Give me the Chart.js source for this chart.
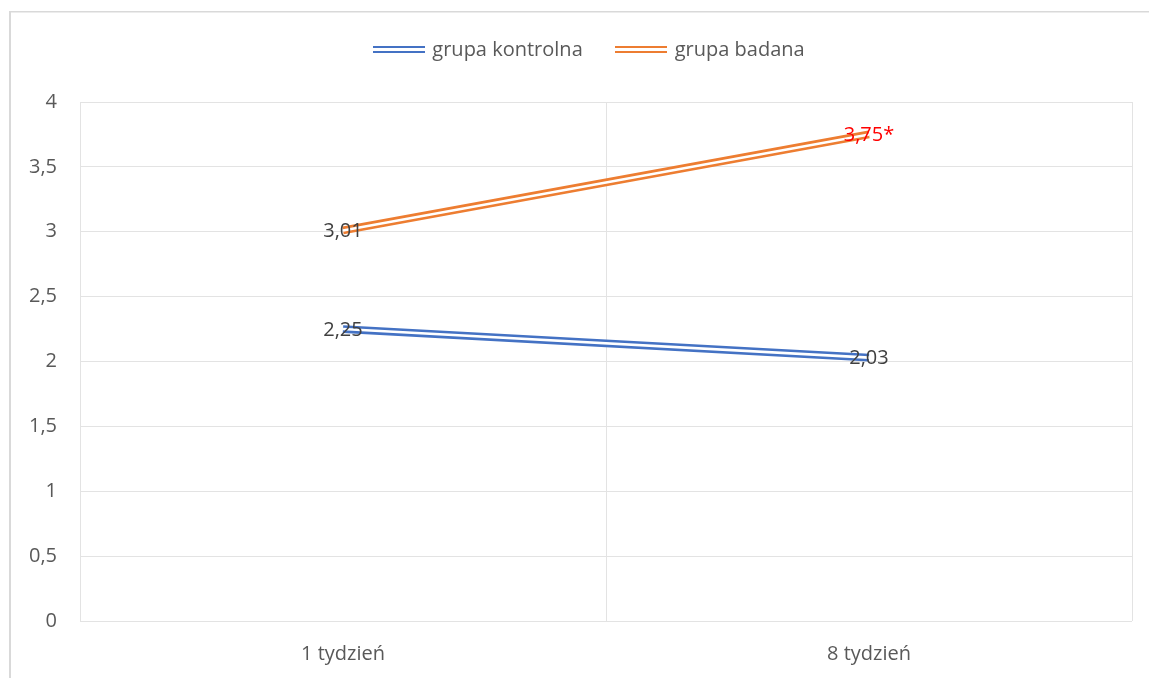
<!DOCTYPE html>
<html>
<head>
<meta charset="utf-8">
<script src="https://cdn.jsdelivr.net/npm/chart.js@4/dist/chart.umd.min.js"></script>
<style>
  html, body { margin: 0; padding: 0; background: #fff; }
  #wrap { width: 1149px; height: 678px; position: relative; }
</style>
</head>
<body>
<div id="wrap"><canvas id="chart"></canvas></div>
<script>
// Categories and series
const categories = ['1 tydzień', '8 tydzień'];
const seriesNames = ['grupa kontrolna', 'grupa badana'];
const kontrolna = [2.25, 2.03];
const badana = [3.01, 3.75];
// Significance markers appended to the value labels
const kontrolnaMarks = ['', ''];
const badanaMarks = ['', '*'];
// Y axis ticks
const yTicks = [0, 0.5, 1, 1.5, 2, 2.5, 3, 3.5, 4];

const BLUE = '#4472C4';
const ORANGE = '#ED7D31';
const FONT = '"Open Sans", "Noto Sans", sans-serif';

const fmt = v => String(v).replace('.', ',');

// Double-line swatch used in the legend
function swatch(color) {
  const c = document.createElement('canvas');
  c.width = 52; c.height = 8;
  const g = c.getContext('2d');
  g.fillStyle = color;
  g.fillRect(0, 0, 52, 7);
  g.clearRect(0, 2.3, 52, 2.4);
  return c;
}
const swatches = [swatch(BLUE), swatch(ORANGE)];

// Each series is drawn as a thick coloured line with a thin white line on top,
// giving a double ("compound") stroke.
const seriesData = [kontrolna, badana];
const seriesMarks = [kontrolnaMarks, badanaMarks];
const seriesColors = [BLUE, ORANGE];
const datasets = [];
seriesData.forEach((data, k) => {
  datasets.push({
    label: seriesNames[k], data, marks: seriesMarks[k],
    borderColor: seriesColors[k], backgroundColor: seriesColors[k],
    borderWidth: 7.8, borderCapStyle: 'butt', pointRadius: 0, pointHoverRadius: 0,
    tension: 0, fill: false, order: 1
  });
  datasets.push({
    label: '', data,
    borderColor: '#ffffff', borderWidth: 2.6, borderCapStyle: 'butt',
    pointRadius: 0, pointHoverRadius: 0, tension: 0, fill: false, order: 0
  });
});

// Light frame around the whole chart
const frame = {
  id: 'frame',
  beforeDraw(chart) {
    const ctx = chart.ctx;
    ctx.save();
    ctx.fillStyle = '#d9d9d9';
    ctx.fillRect(9, 11, 2, chart.height);
    ctx.fillRect(9, 11, chart.width, 1.5);
    ctx.restore();
  }
};

// Extra room below the legend, and legend centred on the framed area
const legendPlacement = {
  id: 'legendPlacement',
  afterInit(chart) {
    const lg = chart.legend;
    if (lg && !lg._gapPatched) {
      const fit = lg.fit;
      lg.fit = function () { fit.call(this); this.height += 32; };
      lg._gapPatched = true;
    }
  },
  afterLayout(chart) {
    if (chart.legend) chart.legend.left = 48;
  }
};

// Value labels centred on each point
const valueLabels = {
  id: 'valueLabels',
  afterDatasetsDraw(chart) {
    const ctx = chart.ctx;
    ctx.save();
    ctx.font = '20px ' + FONT;
    ctx.textAlign = 'center';
    ctx.textBaseline = 'middle';
    chart.data.datasets.forEach((ds, i) => {
      if (!ds.marks) return;
      chart.getDatasetMeta(i).data.forEach((pt, j) => {
        const mark = ds.marks[j];
        ctx.fillStyle = mark ? '#FF0000' : '#404040';
        ctx.fillText(fmt(ds.data[j]) + mark, pt.x, pt.y + 1);
      });
    });
    ctx.restore();
  }
};

new Chart(document.getElementById('chart'), {
  type: 'line',
  data: { labels: categories, datasets },
  options: {
    responsive: true,
    maintainAspectRatio: false,
    animation: false,
    events: [],
    layout: { padding: { top: 5, left: 0, right: 17, bottom: 0 } },
    plugins: {
      tooltip: { enabled: false },
      legend: {
        position: 'top',
        align: 'center',
        labels: {
          usePointStyle: true,
          pointStyleWidth: 47,
          padding: 35,
          color: '#595959',
          font: { family: FONT, size: 20 },
          generateLabels: () => seriesNames.map((name, k) => ({
            text: name,
            pointStyle: swatches[k],
            fillStyle: 'transparent',
            strokeStyle: 'transparent',
            lineWidth: 0,
            fontColor: '#595959',
            hidden: false,
            datasetIndex: k * 2
          }))
        }
      }
    },
    scales: {
      x: {
        type: 'category',
        offset: true,
        grid: { offset: true, color: '#e3e3e3', lineWidth: 1, drawTicks: false },
        border: { display: false },
        ticks: { color: '#595959', font: { family: FONT, size: 20 }, padding: 21, maxRotation: 0 },
        afterFit: s => { s.height = 57; }
      },
      y: {
        min: yTicks[0],
        max: yTicks[yTicks.length - 1],
        afterBuildTicks: s => { s.ticks = yTicks.map(v => ({ value: v })); },
        grid: { color: '#e3e3e3', lineWidth: 1, drawTicks: false },
        border: { display: false },
        ticks: { color: '#595959', font: { family: FONT, size: 20 }, padding: 23, callback: v => fmt(v) },
        afterFit: s => { s.width = 80; }
      }
    }
  },
  plugins: [frame, legendPlacement, valueLabels]
});
</script>
</body>
</html>
